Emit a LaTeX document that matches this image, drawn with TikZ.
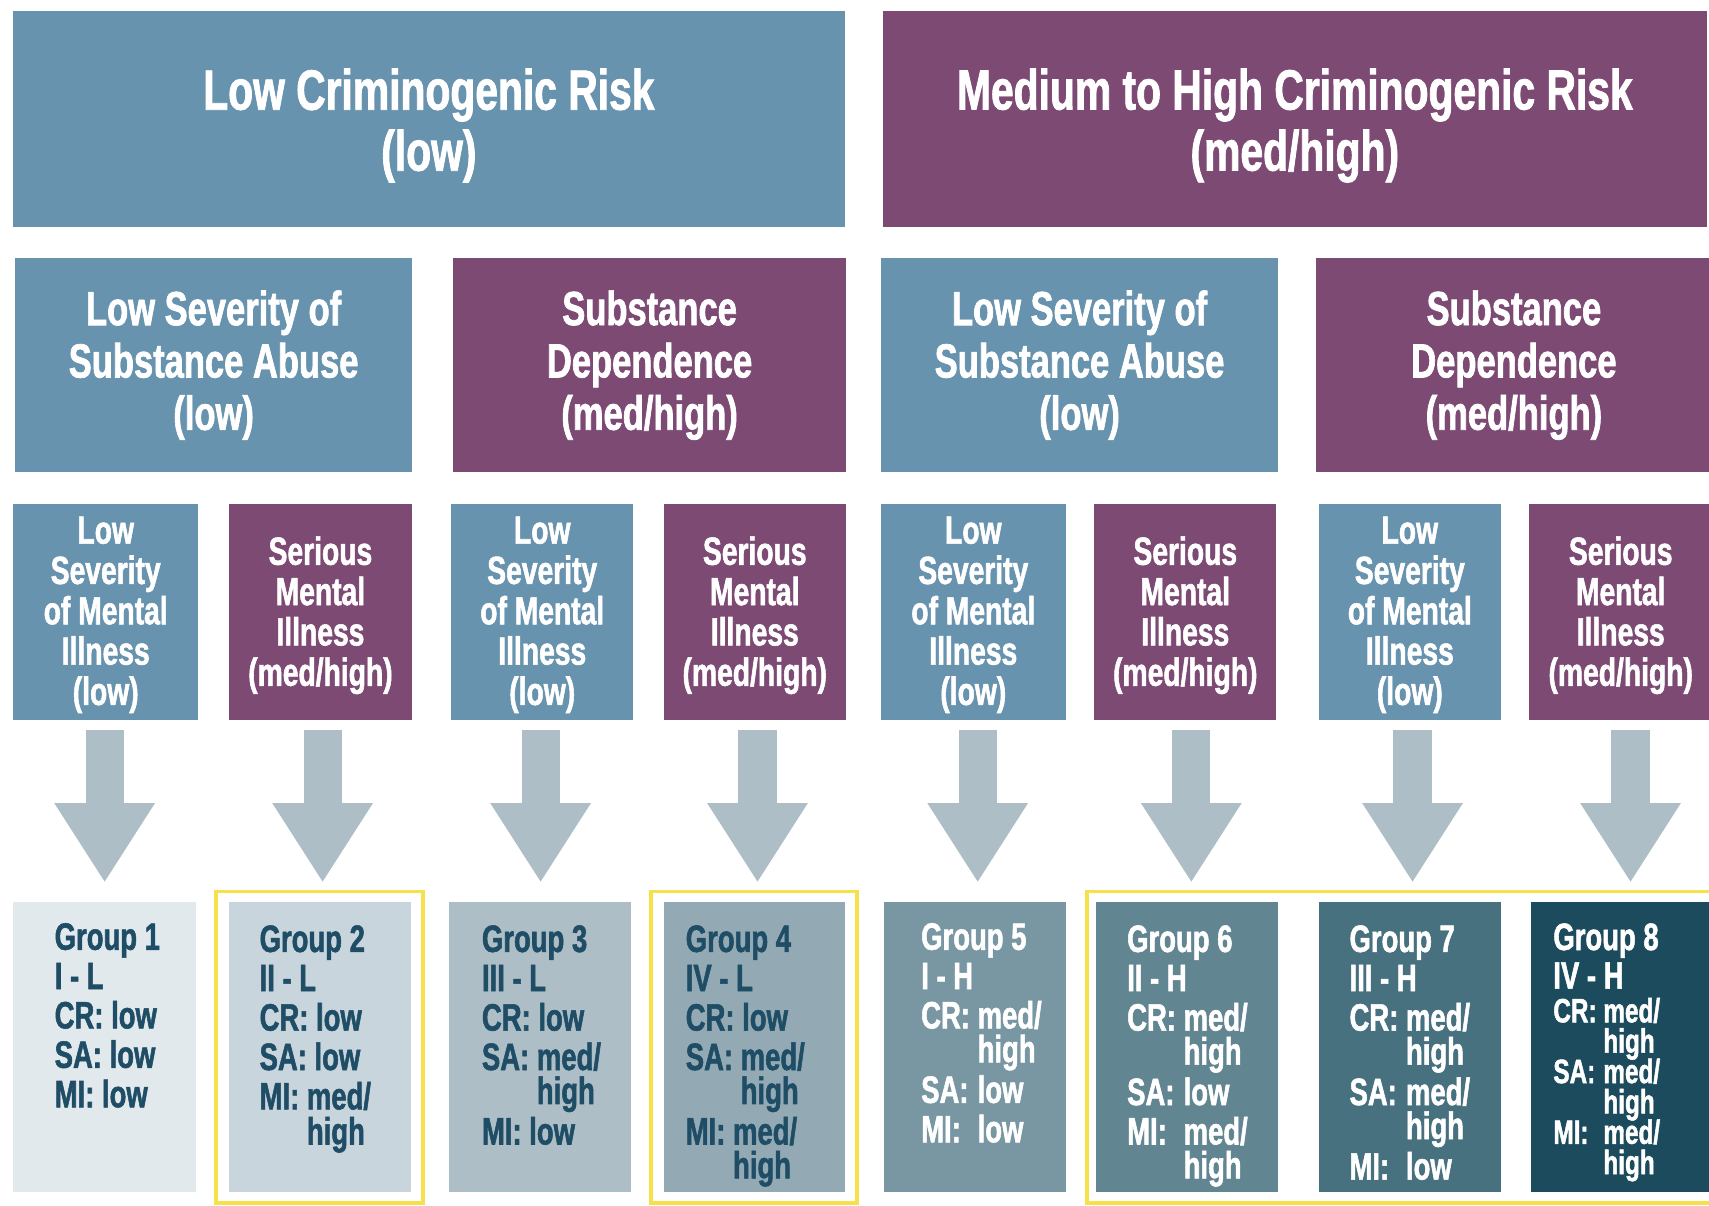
\documentclass[tikz,border=0pt]{standalone}
\usepackage{fontspec}
\setmainfont{Liberation Sans}[FakeStretch=0.72, BoldFeatures={FakeBold=1.4}]
\usetikzlibrary{arrows.meta}
\definecolor{cblue}{HTML}{6793AE}
\definecolor{cpurple}{HTML}{7D4A74}
\definecolor{carrow}{HTML}{ADBEC6}
\definecolor{cyel}{HTML}{F6E14B}
\definecolor{ctext}{HTML}{1F4D66}
\definecolor{gA}{HTML}{E2E9ED}
\definecolor{gB}{HTML}{C9D5DC}
\definecolor{gC}{HTML}{ADBEC6}
\definecolor{gD}{HTML}{93AAB5}
\definecolor{gE}{HTML}{7897A3}
\definecolor{gF}{HTML}{628592}
\definecolor{gG}{HTML}{47717F}
\definecolor{gH}{HTML}{1D4B5E}
\newcommand\grpline[1]{\multicolumn{2}{@{}l@{}}{#1}}
\newcommand\medhigh{med/\\[-5pt] & high\\[1pt]}
\newcommand\natmh[1]{#1 med/\\[-5pt] \phantom{#1 }high\\[1pt]}
\begin{document}
\begin{tikzpicture}[x=1pt,y=-1pt,
  box/.style={inner sep=0pt, align=center, text=white, font=\bfseries},
  hdr/.style={box, font=\bfseries\fontsize{52}{56}\selectfont},
  sub/.style={box, font=\bfseries\fontsize{44}{48}\selectfont},
  lvl/.style={box, font=\bfseries\fontsize{36}{37}\selectfont},
  grp/.style={inner sep=0pt},
  gtxt/.style={inner sep=0pt, anchor=north west, font=\bfseries\fontsize{35}{36}\selectfont},
  fatarrow/.style={draw=carrow, line width=35pt, -{Triangle[width=87pt,length=73pt]}, shorten >=18pt, shorten <=9pt},
  frame/.style={draw=cyel, line width=3.5pt}
]
\useasboundingbox (0,0) rectangle (1568,1106);
\clip (0,0) rectangle (1568,1106);

% top row
\node[hdr, fill=cblue, minimum width=763pt, minimum height=198pt] (top1) at (393.5,109) {\rule{0pt}{50pt}Low Criminogenic Risk\\(low)};
\node[hdr, fill=cpurple, minimum width=756pt, minimum height=198pt] (top2) at (1188,109) {\rule{0pt}{50pt}Medium to High Criminogenic Risk\\(med/high)};

% second row
\node[sub, fill=cblue, minimum width=364pt, minimum height=196pt] (s1) at (196,335) {Low Severity of\\Substance Abuse\\(low)};
\node[sub, fill=cpurple, minimum width=360pt, minimum height=196pt] (s2) at (596,335) {Substance\\Dependence\\(med/high)};
\node[sub, fill=cblue, minimum width=365pt, minimum height=196pt] (s3) at (990.5,335) {Low Severity of\\Substance Abuse\\(low)};
\node[sub, fill=cpurple, minimum width=364pt, minimum height=196pt] (s4) at (1389,335) {Substance\\Dependence\\(med/high)};

% third row
\foreach \n/\cx/\w/\c in {c1/97/170/cblue, c3/497.5/167/cblue, c5/893/170/cblue, c7/1293.5/167/cblue}{
  \node[lvl, fill=\c, minimum width=\w pt, minimum height=199pt] (\n) at (\cx,561.5) {\rule{0pt}{30pt}Low\\Severity\\of Mental\\Illness\\(low)};
}
\foreach \n/\cx/\w/\c in {c2/294/168/cpurple, c4/692.5/167/cpurple, c6/1087.5/167/cpurple, c8/1487/168/cpurple}{
  \node[lvl, fill=\c, minimum width=\w pt, minimum height=199pt] (\n) at (\cx,561.5) {\rule{0pt}{32pt}Serious\\Mental\\Illness\\(med/high)};
}

% group boxes
\node[grp, fill=gA, minimum width=168pt, minimum height=266pt] (g1) at (96,961) {};
\node[grp, fill=gB, minimum width=167pt, minimum height=266pt] (g2) at (293.5,961) {};
\node[grp, fill=gC, minimum width=167pt, minimum height=266pt] (g3) at (495.5,961) {};
\node[grp, fill=gD, minimum width=166pt, minimum height=266pt] (g4) at (692,961) {};
\node[grp, fill=gE, minimum width=167pt, minimum height=266pt] (g5) at (894.5,961) {};
\node[grp, fill=gF, minimum width=167pt, minimum height=266pt] (g6) at (1089.5,961) {};
\node[grp, fill=gG, minimum width=167pt, minimum height=266pt] (g7) at (1293.5,961) {};
\node[grp, fill=gH, minimum width=167pt, minimum height=266pt] (g8) at (1488.5,961) {};

% yellow frames
\draw[frame] (198,818) rectangle (388,1104);
\draw[frame] (597,818) rectangle (786,1104);
\draw[frame] (997,818) rectangle (1600,1104);

% arrows
\foreach \i/\ax in {1/96, 2/296, 3/496, 4/695, 5/897, 6/1093, 7/1296, 8/1496}{
  \coordinate (a\i) at (\ax,661);
  \draw[fatarrow] (a\i) -- (a\i |- g\i.north);
}

% group texts
\node[gtxt, text=ctext] (t1) at (50,846) {\begin{tabular}{@{}l@{}}
Group 1\\ I - L\\ CR: low\\ SA: low\\ MI: low\end{tabular}};
\node[gtxt, text=ctext] (t2) at (238,848) {\begin{tabular}{@{}l@{}}
Group 2\\ II - L\\ CR: low\\ SA: low\\ MI: med/\\[-4pt] \phantom{MI: }high\end{tabular}};
\node[gtxt, text=ctext] (t3) at (442,848) {\begin{tabular}{@{}l@{}}
Group 3\\ III - L\\ CR: low\\ \natmh{SA:} MI: low\end{tabular}};
\node[gtxt, text=ctext] (t4) at (629,848) {\begin{tabular}{@{}l@{}}
Group 4\\ IV - L\\ CR: low\\ \natmh{SA:} MI: med/\\[-5pt] \phantom{MI: }high\end{tabular}};
\node[gtxt, text=white] (t5) at (845,846) {\begin{tabular}{@{}l@{ }l@{}}
\grpline{Group 5}\\ \grpline{I - H}\\ CR: & \medhigh SA: & low\\ MI: & low\end{tabular}};
\node[gtxt, text=white] (t6) at (1034,848) {\begin{tabular}{@{}l@{ }l@{}}
\grpline{Group 6}\\ \grpline{II - H}\\ CR: & \medhigh SA: & low\\ MI: & med/\\[-5pt] & high\end{tabular}};
\node[gtxt, text=white] (t7) at (1238,848) {\begin{tabular}{@{}l@{ }l@{}}
\grpline{Group 7}\\ \grpline{III - H}\\ CR: & \medhigh SA: & \medhigh MI: & low\end{tabular}};
\node[gtxt, text=white, font=\bfseries\fontsize{31}{28}\selectfont] (t8) at (1425,847) {\begin{tabular}{@{}l@{ }l@{}}
\grpline{\fontsize{35}{36}\selectfont Group 8}\\[3pt] \grpline{\fontsize{35}{36}\selectfont IV - H}\\ CR: & med/\\[-3pt] & high\\[-3pt] SA: & med/\\[-3pt] & high\\[-3pt] MI: & med/\\[-3pt] & high\end{tabular}};
\end{tikzpicture}
\end{document}
